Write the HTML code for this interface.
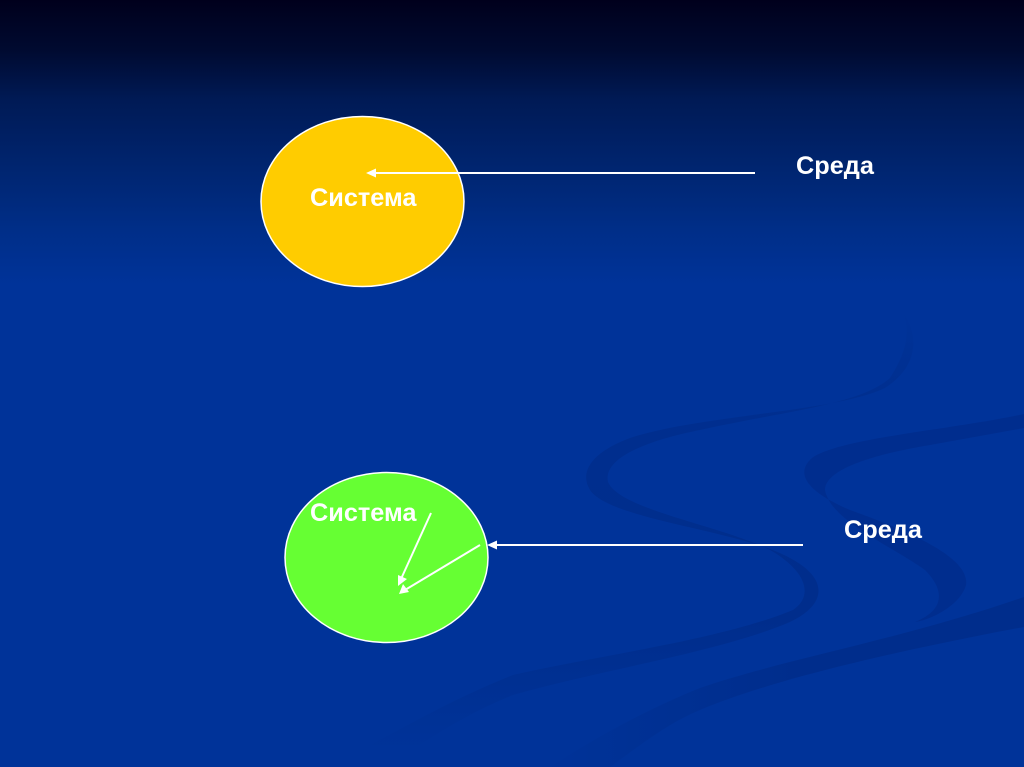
<!DOCTYPE html>
<html>
<head>
<meta charset="utf-8">
<style>
html,body{margin:0;padding:0;background:#003399}
svg{display:block}
text{font-family:"Liberation Sans",sans-serif;font-weight:bold;font-size:25.3px;fill:#fff}
</style>
</head>
<body>
<svg width="1024" height="767" viewBox="0 0 1024 767" xmlns="http://www.w3.org/2000/svg">
<defs>
<linearGradient id="bg" gradientUnits="userSpaceOnUse" x1="0" y1="0" x2="0" y2="767">
<stop offset="0" stop-color="#00001c"/>
<stop offset="0.065" stop-color="#000a30"/>
<stop offset="0.13" stop-color="#001a55"/>
<stop offset="0.22" stop-color="#002570"/>
<stop offset="0.30" stop-color="#002e88"/>
<stop offset="0.37" stop-color="#003399"/>
<stop offset="1" stop-color="#003399"/>
</linearGradient>
<linearGradient id="s1" gradientUnits="userSpaceOnUse" x1="0" y1="312" x2="0" y2="750">
<stop offset="0" stop-color="#002d8c" stop-opacity="0"/>
<stop offset="0.15" stop-color="#002d8c" stop-opacity="0.6"/>
<stop offset="0.3" stop-color="#002d8c" stop-opacity="0.85"/>
<stop offset="0.7" stop-color="#002d8c" stop-opacity="1"/>
<stop offset="1" stop-color="#002d8c" stop-opacity="0"/>
</linearGradient>
<linearGradient id="s3" gradientUnits="userSpaceOnUse" x1="540" y1="0" x2="800" y2="0">
<stop offset="0" stop-color="#002d8c" stop-opacity="0"/>
<stop offset="1" stop-color="#002d8c" stop-opacity="1"/>
</linearGradient>
</defs>
<rect width="1024" height="767" fill="url(#bg)"/>
<path fill="url(#s1)" d="M903,312 C918,335 920,365 885,388 C835,412 700,415 630,438 C595,451 578,470 590,490 C610,520 740,530 790,558 C828,578 828,604 790,622 C720,652 600,670 513,695 C480,708 450,725 420,745 L370,745 C400,730 450,700 513,675 C600,655 720,640 793,610 C815,595 805,570 770,550 C720,525 620,510 608,482 C603,460 640,442 700,430 C780,412 860,405 890,378 C908,350 910,330 903,312 Z"/>
<path fill="#002d8c" fill-opacity="0.85" d="M1024,414 C950,430 840,438 812,458 C794,474 808,492 850,510 C920,535 970,560 966,585 C960,606 930,620 915,622 C945,610 945,590 925,570 C890,545 830,520 825,490 C825,470 870,455 930,445 L1024,428 Z"/>
<path fill="url(#s3)" d="M1024,597 C900,640 780,660 700,688 C650,708 600,735 550,767 L610,767 C640,745 670,722 700,710 C770,680 900,650 1024,627 Z"/>
<ellipse cx="362.500" cy="201.500" rx="101.500" ry="85" fill="#ffcc00" stroke="#ffffff" stroke-width="1.500"/>
<ellipse cx="386.500" cy="557.500" rx="101.500" ry="85" fill="#66ff33" stroke="#ffffff" stroke-width="1.500"/>
<text x="310" y="206">Система</text>
<text x="310" y="521">Система</text>
<text x="796" y="174">Среда</text>
<text x="844" y="538">Среда</text>
<g stroke="#ffffff" stroke-width="2" fill="none">
<line x1="755" y1="173" x2="372" y2="173"/>
<line x1="803" y1="545" x2="494" y2="545"/>
<line x1="431" y1="513" x2="401" y2="579"/>
<line x1="480" y1="545" x2="405" y2="590"/>
</g>
<g fill="#ffffff">
<polygon points="366,173 376,168.500 376,177.500"/>
<polygon points="487,545 497,540.500 497,549.500"/>
<polygon points="398,586 398,575 407,579"/>
<polygon points="399,594 403,584 409,592"/>
</g>
</svg>
</body>
</html>
